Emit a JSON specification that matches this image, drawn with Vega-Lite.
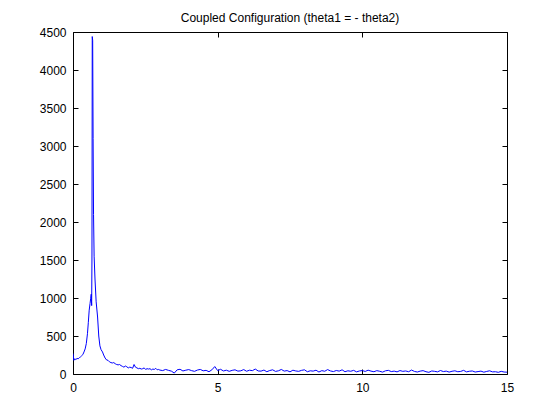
{
  "$schema": "https://vega.github.io/schema/vega-lite/v6.json",
  "width": 434,
  "height": 342,
  "autosize": {"type": "none"},
  "padding": {"left": 73, "top": 32, "right": 53, "bottom": 46},
  "background": "white",
  "title": {"text": "Coupled Configuration (theta1 = - theta2)", "font": "Liberation Sans", "fontSize": 12, "fontWeight": "normal", "color": "black", "offset": 1, "anchor": "middle", "frame": "group"},
  "config": {
    "view": {"stroke": "black", "strokeWidth": 1},
    "axis": {"grid": false, "domain": false, "tickColor": "black", "tickWidth": 1, "labelColor": "black", "labelFont": "Liberation Sans", "labelFontSize": 12, "tickSize": 5, "offset": -5, "minExtent": 0, "title": null, "format": "d", "labelFlush": false}
  },
  "data": {"values": [
    {"f":0,"p":270},{"f":0.03,"p":180},{"f":0.06,"p":200},{"f":0.1,"p":190},{"f":0.14,"p":205},{"f":0.18,"p":200},{"f":0.22,"p":215},{"f":0.26,"p":225},{"f":0.3,"p":240},{"f":0.34,"p":255},{"f":0.38,"p":290},{"f":0.42,"p":330},{"f":0.46,"p":400},{"f":0.5,"p":530},{"f":0.53,"p":680},{"f":0.56,"p":840},{"f":0.59,"p":930},{"f":0.61,"p":990},{"f":0.63,"p":1050},{"f":0.645,"p":900},{"f":0.655,"p":1500},{"f":0.665,"p":4440},{"f":0.68,"p":4390},{"f":0.695,"p":3100},{"f":0.71,"p":2100},{"f":0.73,"p":1550},{"f":0.76,"p":1250},{"f":0.8,"p":950},{"f":0.85,"p":750},{"f":0.89,"p":500},{"f":0.93,"p":370},{"f":0.97,"p":320},{"f":1.02,"p":290},{"f":1.06,"p":250},{"f":1.11,"p":210},{"f":1.16,"p":185},{"f":1.21,"p":180},{"f":1.26,"p":160},{"f":1.31,"p":150},{"f":1.36,"p":145},{"f":1.41,"p":150},{"f":1.46,"p":135},{"f":1.51,"p":125},{"f":1.56,"p":120},{"f":1.61,"p":125},{"f":1.66,"p":110},{"f":1.71,"p":100},{"f":1.76,"p":90},{"f":1.81,"p":105},{"f":1.86,"p":95},{"f":1.91,"p":80},{"f":1.96,"p":90},{"f":2.01,"p":85},{"f":2.06,"p":75},{"f":2.11,"p":125},{"f":2.16,"p":90},{"f":2.21,"p":80},{"f":2.26,"p":70},{"f":2.31,"p":75},{"f":2.36,"p":65},{"f":2.41,"p":70},{"f":2.46,"p":80},{"f":2.51,"p":60},{"f":2.56,"p":70},{"f":2.61,"p":65},{"f":2.66,"p":70},{"f":2.71,"p":55},{"f":2.76,"p":65},{"f":2.81,"p":60},{"f":2.86,"p":75},{"f":2.91,"p":55},{"f":2.96,"p":60},
    {"f":3.0,"p":52},{"f":3.1,"p":45},{"f":3.2,"p":60},{"f":3.3,"p":48},{"f":3.4,"p":38},{"f":3.5,"p":12},{"f":3.6,"p":55},{"f":3.7,"p":62},{"f":3.8,"p":40},{"f":3.9,"p":50},
    {"f":4.0,"p":58},{"f":4.1,"p":44},{"f":4.2,"p":35},{"f":4.3,"p":52},{"f":4.4,"p":60},{"f":4.5,"p":42},{"f":4.6,"p":48},{"f":4.7,"p":30},{"f":4.8,"p":55},{"f":4.9,"p":98},
    {"f":5.0,"p":45},{"f":5.1,"p":62},{"f":5.2,"p":40},{"f":5.3,"p":50},{"f":5.4,"p":35},{"f":5.5,"p":48},{"f":5.6,"p":55},{"f":5.7,"p":38},{"f":5.8,"p":42},{"f":5.9,"p":58},
    {"f":6.0,"p":36},{"f":6.1,"p":50},{"f":6.2,"p":44},{"f":6.3,"p":65},{"f":6.4,"p":40},{"f":6.5,"p":38},{"f":6.6,"p":52},{"f":6.7,"p":30},{"f":6.8,"p":46},{"f":6.9,"p":55},
    {"f":7.0,"p":34},{"f":7.1,"p":42},{"f":7.2,"p":60},{"f":7.3,"p":38},{"f":7.4,"p":45},{"f":7.5,"p":28},{"f":7.6,"p":50},{"f":7.7,"p":40},{"f":7.8,"p":35},{"f":7.9,"p":48},
    {"f":8.0,"p":55},{"f":8.1,"p":30},{"f":8.2,"p":42},{"f":8.3,"p":38},{"f":8.4,"p":50},{"f":8.5,"p":26},{"f":8.6,"p":44},{"f":8.7,"p":36},{"f":8.8,"p":58},{"f":8.9,"p":40},
    {"f":9.0,"p":32},{"f":9.1,"p":46},{"f":9.2,"p":38},{"f":9.3,"p":55},{"f":9.4,"p":30},{"f":9.5,"p":42},{"f":9.6,"p":36},{"f":9.7,"p":48},{"f":9.8,"p":28},{"f":9.9,"p":40},
    {"f":10.0,"p":45},{"f":10.1,"p":34},{"f":10.2,"p":50},{"f":10.3,"p":38},{"f":10.4,"p":30},{"f":10.5,"p":44},{"f":10.6,"p":36},{"f":10.7,"p":25},{"f":10.8,"p":42},{"f":10.9,"p":48},
    {"f":11.0,"p":32},{"f":11.1,"p":38},{"f":11.2,"p":28},{"f":11.3,"p":45},{"f":11.4,"p":35},{"f":11.5,"p":40},{"f":11.6,"p":30},{"f":11.7,"p":52},{"f":11.8,"p":34},{"f":11.9,"p":26},
    {"f":12.0,"p":38},{"f":12.1,"p":44},{"f":12.2,"p":30},{"f":12.3,"p":22},{"f":12.4,"p":40},{"f":12.5,"p":35},{"f":12.6,"p":28},{"f":12.7,"p":46},{"f":12.8,"p":32},{"f":12.9,"p":38},
    {"f":13.0,"p":25},{"f":13.1,"p":36},{"f":13.2,"p":42},{"f":13.3,"p":30},{"f":13.4,"p":34},{"f":13.5,"p":48},{"f":13.6,"p":28},{"f":13.7,"p":36},{"f":13.8,"p":40},{"f":13.9,"p":26},
    {"f":14.0,"p":32},{"f":14.1,"p":38},{"f":14.2,"p":24},{"f":14.3,"p":34},{"f":14.4,"p":42},{"f":14.5,"p":28},{"f":14.6,"p":30},{"f":14.7,"p":22},{"f":14.8,"p":35},{"f":14.9,"p":26},{"f":15.0,"p":24}
  ]},
  "layer": [
    {
      "mark": {"type": "line", "color": "#0000FF", "strokeWidth": 1, "clip": true},
      "encoding": {
        "x": {"field": "f", "type": "quantitative", "scale": {"domain": [0, 15], "nice": false, "zero": false}, "axis": {"values": [0, 5, 10, 15], "labelPadding": 8, "orient": "bottom"}},
        "y": {"field": "p", "type": "quantitative", "scale": {"domain": [0, 4500], "nice": false}, "axis": {"values": [0, 500, 1000, 1500, 2000, 2500, 3000, 3500, 4000, 4500], "labelPadding": 7, "orient": "left"}}
      }
    },
    {
      "mark": {"type": "line", "color": "#0000FF", "strokeWidth": 1, "opacity": 0},
      "encoding": {
        "x": {"field": "f", "type": "quantitative", "scale": {"domain": [0, 15], "nice": false, "zero": false}, "axis": {"values": [0, 5, 10, 15], "labels": false, "orient": "top"}},
        "y": {"field": "p", "type": "quantitative", "scale": {"domain": [0, 4500], "nice": false}, "axis": {"values": [0, 500, 1000, 1500, 2000, 2500, 3000, 3500, 4000, 4500], "labels": false, "orient": "right"}}
      }
    }
  ],
  "resolve": {"axis": {"x": "independent", "y": "independent"}}
}
